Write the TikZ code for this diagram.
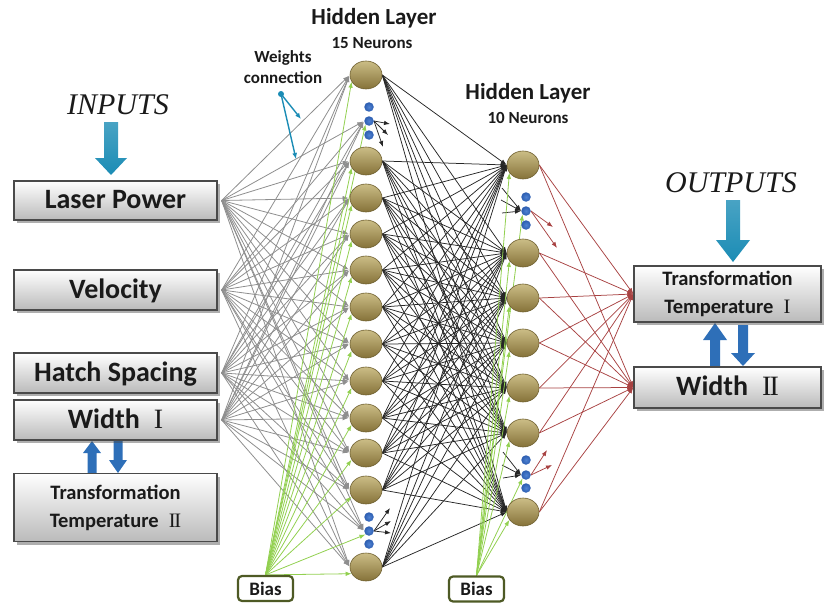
\documentclass[tikz,border=0pt]{standalone}
\usepackage{fontspec}
\setmainfont{Carlito}
\newfontfamily\titlefont{Liberation Serif}
\usetikzlibrary{arrows.meta,shadows,shapes.geometric}
\pgfdeclarelayer{wires}
\pgfsetlayers{wires,main}

\definecolor{boxedge}{HTML}{4A4A4A}
\definecolor{neuronhi}{HTML}{CBBD86}
\definecolor{neuronmid}{HTML}{AD9C5C}
\definecolor{neuronlo}{HTML}{857239}
\definecolor{neuronedge}{HTML}{6F6030}
\definecolor{dotblue}{HTML}{2C5DB0}
\definecolor{dotlight}{HTML}{4F82D2}
\definecolor{wiregray}{HTML}{8E8E8E}
\definecolor{wiregreen}{HTML}{92D050}
\definecolor{wirered}{HTML}{A84242}
\definecolor{arrowteal}{HTML}{1B8CB5}
\definecolor{arrowblue}{HTML}{2E6FB8}
\definecolor{biasedge}{HTML}{4E5A25}
\definecolor{inktext}{HTML}{1A1A1A}

% serif roman numerals, the second one with touching serifs
\newcommand\numI{{\titlefont\mdseries I}}
\newcommand\numII{{\titlefont\mdseries I\kern-0.07em I}}

\tikzset{
  paramtext/.style={font=\bfseries\fontsize{28}{30}\selectfont, text=inktext},
  smalltext/.style={font=\bfseries\fontsize{20.5}{28}\selectfont, text=inktext},
  inbox/.style={draw=boxedge, line width=1.3pt, top color=white, bottom color=black!27,
    drop shadow={shadow xshift=3pt, shadow yshift=-3pt, opacity=.45, fill=black!70},
    inner sep=0pt, align=center},
  oneline/.style={text height=20pt, text depth=4pt},
  neuron/.style={ellipse, minimum width=32pt, minimum height=28pt, inner sep=0pt,
    draw=neuronedge, line width=.6pt, top color=neuronhi, middle color=neuronmid,
    bottom color=neuronlo},
  unitdot/.style={circle, minimum size=9.5pt, inner sep=0pt, inner color=dotlight,
    outer color=dotblue},
  biasbox/.style={draw=biasedge, line width=2.2pt, fill=white, rounded corners=4pt,
    minimum width=55pt, minimum height=25pt, inner sep=0pt,
    font=\bfseries\fontsize{19}{20}\selectfont, text=inktext},
  wiretip/.style={-{Latex[length=6pt,width=4.5pt]}},
  graywire/.style={wiretip, draw=wiregray, line width=.8pt, shorten >=1pt},
  greenwire/.style={wiretip, draw=wiregreen, line width=.8pt},
  blackwire/.style={wiretip, draw=black!85, line width=.75pt},
  redwire/.style={wiretip, draw=wirered, line width=.75pt},
  tealwire/.style={-{Latex[length=6pt,width=5pt]}, draw=arrowteal, line width=1.4pt},
  headtext/.style={font=\bfseries\fontsize{23}{24}\selectfont, text=inktext},
  counttext/.style={font=\bfseries\fontsize{17}{18}\selectfont, text=inktext},
  sidetitle/.style={font=\titlefont\itshape\fontsize{30}{32}\selectfont, text=inktext},
}

\begin{document}
\begin{tikzpicture}[x=1pt, y=-1pt]
\useasboundingbox (0,0) rectangle (826,607);

% ---------- block arrows ----------
\shade[top color=arrowteal!80!white, bottom color=arrowteal]
  (104,122) -- (118,122) -- (118,158) -- (127,158) -- (111,175) -- (95,158) -- (104,158) -- cycle;
\shade[top color=arrowteal!80!white, bottom color=arrowteal]
  (726,200) -- (740,200) -- (740,240) -- (750,240) -- (733,262) -- (716,240) -- (726,240) -- cycle;
\fill[arrowblue]
  (92,441) -- (101,453) -- (96.5,453) -- (96.5,473) -- (87.5,473) -- (87.5,453) -- (83,453) -- cycle;
\fill[arrowblue]
  (113.5,441) -- (122.5,441) -- (122.5,460) -- (127,460) -- (118,473) -- (109,460) -- (113.5,460) -- cycle;
\fill[arrowblue]
  (715,323) -- (727,340) -- (720,340) -- (720,366) -- (710,366) -- (710,340) -- (703,340) -- cycle;
\fill[arrowblue]
  (738,325) -- (748,325) -- (748,353) -- (755,353) -- (743,366) -- (731,353) -- (738,353) -- cycle;

% ---------- titles ----------
\node[sidetitle] (intitle) at (118,105) {INPUTS};
\node[sidetitle] (outtitle) at (731,183) {OUTPUTS};
\node[headtext] (hl1) at (374,18) {Hidden Layer};
\node[counttext] (n15) at (372,43) {15 Neurons};
\node[headtext] (hl2) at (528,93) {Hidden Layer};
\node[counttext] (n10) at (528,118) {10 Neurons};

% ---------- input boxes ----------
\node[inbox, paramtext, oneline, minimum width=203pt, minimum height=39pt] (lp) at (115.5,200.5) {Laser Power};
\node[inbox, paramtext, oneline, minimum width=203pt, minimum height=40pt] (vel) at (115.5,290) {Velocity};
\node[inbox, paramtext, oneline, minimum width=203pt, minimum height=40pt] (hs) at (115.5,373) {Hatch Spacing};
\node[inbox, paramtext, oneline, minimum width=203pt, minimum height=40pt] (wd1) at (115.5,420) {Width\enspace\numI};
\node[inbox, smalltext, minimum width=203pt, minimum height=68pt] (tt2) at (115.5,507.5)
  {Transformation\\Temperature\enspace\numII};

% ---------- output boxes ----------
\node[inbox, smalltext, minimum width=187pt, minimum height=56pt] (tt1) at (727.5,294)
  {Transformation\\Temperature\enspace\numI};
\node[inbox, paramtext, oneline, minimum width=187pt, minimum height=41pt] (wd2) at (727.5,387.5) {Width\enspace\numII};

% ---------- hidden layer 1 ----------
\foreach \y [count=\i] in {75,161,198,234,270,307,344,381,418,453,490,567}
  \node[neuron] (h1-\i) at (366,\y) {};
\foreach \y [count=\i] in {107,121,135}
  \node[unitdot] (da\i) at (369,\y) {};
\foreach \y [count=\i] in {517,531,544}
  \node[unitdot] (db\i) at (369,\y) {};

% ---------- hidden layer 2 ----------
\foreach \y [count=\i] in {165,253,298,343,388,433,512}
  \node[neuron] (h2-\i) at (523,\y) {};
\foreach \y [count=\i] in {197,211,225}
  \node[unitdot] (dc\i) at (526,\y) {};
\foreach \y [count=\i] in {460,475,488}
  \node[unitdot] (dd\i) at (526,\y) {};

% ---------- bias boxes ----------
\node[biasbox] (bias1) at (265.5,588.5) {Bias};
\node[biasbox] (bias2) at (476.5,589) {Bias};

% ---------- weights annotation ----------
\node[font=\bfseries\fontsize{17}{21}\selectfont, text=inktext, align=center] (wlabel) at (283,67)
  {Weights\\connection};
\node[circle, minimum size=6pt, inner sep=0pt, fill=arrowteal] (wdot) at (281,94) {};
\coordinate (wt1) at (301,119);
\coordinate (wt2) at (296,159);
\draw[tealwire] (wdot.center) -- (wt1);
\draw[tealwire] (wdot.center) -- (wt2);

% ---------- free ends of the partial connections ----------
\coordinate (ua1) at (390,124);
\coordinate (ua2) at (388,135);
\coordinate (ua3) at (383,147);
\coordinate (ub1) at (390,508);
\coordinate (ub2) at (391,521);
\coordinate (ub3) at (391,533);
\coordinate (uc1) at (502,188);
\coordinate (uc2) at (501,200);
\coordinate (uc3) at (502,213);
\coordinate (ud1) at (503,452);
\coordinate (ud2) at (502,465);
\coordinate (ud3) at (503,478);
\coordinate (ue1) at (553,227);
\coordinate (ue2) at (557,248);
\coordinate (uf1) at (547,450);
\coordinate (uf2) at (552,465);

% ---------- connections ----------
\begin{pgfonlayer}{wires}
  \foreach \s in {lp,vel,hs,wd1}{
    \foreach \i in {1,...,12}
      \draw[graywire] ([xshift=4pt]\s.east) -- (h1-\i.west);
    \foreach \d in {da2,db2}
      \draw[graywire] ([xshift=4pt]\s.east) -- (\d.west);
  }
  \foreach \i in {1,...,12}
    \draw[greenwire] (bias1.north) -- (h1-\i.205);
  \foreach \d in {da2,db2}
    \draw[greenwire] (bias1.north) -- (\d.south west);
  \foreach \i in {1,...,12}
    \foreach \j in {1,...,7}
      \draw[blackwire] (h1-\i.east) -- (h2-\j.west);
  \foreach \k in {1,2,3}{
    \draw[blackwire] (da2.east) -- (ua\k);
    \draw[blackwire] (db2.east) -- (ub\k);
    \draw[blackwire] (uc\k) -- (dc2.west);
    \draw[blackwire] (ud\k) -- (dd2.west);
  }
  \foreach \j in {1,...,7}
    \draw[greenwire] (bias2.north) -- (h2-\j.210);
  \foreach \d in {dc2,dd2}
    \draw[greenwire] (bias2.north) -- (\d.south west);
  \foreach \j in {1,...,7}
    \foreach \o in {tt1,wd2}
      \draw[redwire] (h2-\j.east) -- (\o.west);
  \foreach \k in {1,2}{
    \draw[redwire] (dc2.east) -- (ue\k);
    \draw[redwire] (dd2.east) -- (uf\k);
  }
\end{pgfonlayer}
\end{tikzpicture}
\end{document}
